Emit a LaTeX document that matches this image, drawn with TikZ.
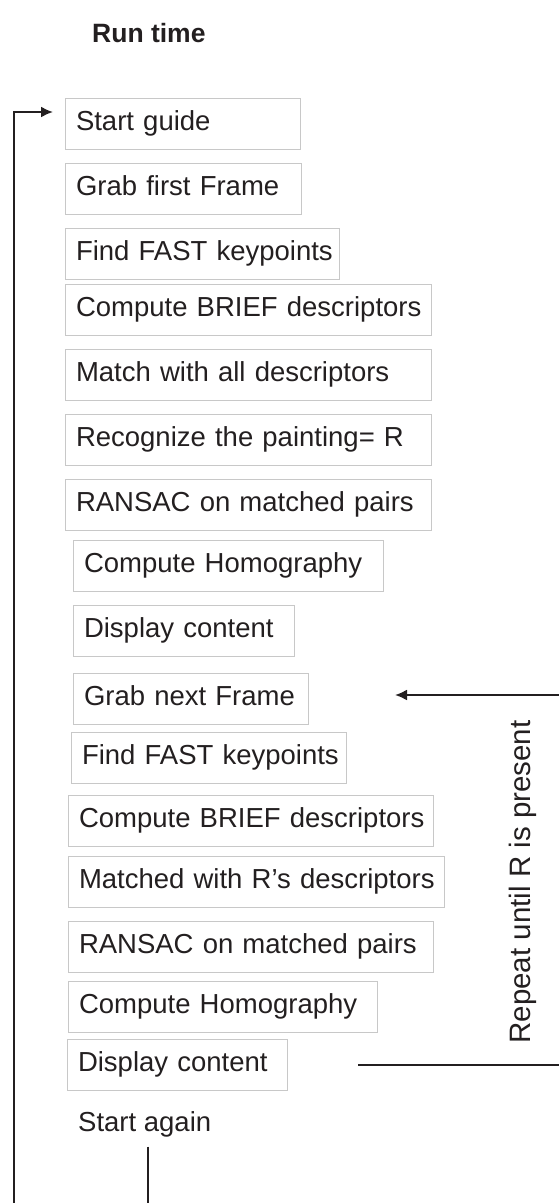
\documentclass[tikz,border=0pt]{standalone}
\usepackage{fontspec}
\setmainfont{Liberation Sans}
\usetikzlibrary{arrows.meta}
\definecolor{ink}{HTML}{231F20}
\definecolor{boxline}{HTML}{C8C8C8}
\tikzset{
	stepbox/.style={draw=boxline, line width=1pt, anchor=west, align=left,
		minimum height=51pt, inner xsep=10.5pt, text height=20pt, text depth=7pt},
	loopline/.style={draw=ink, line width=2pt},
	looptip/.style={-{Latex[length=12pt,width=11pt]}}
}
\begin{document}
\begin{tikzpicture}[x=1pt,y=-1pt,font=\fontsize{27.5}{32}\selectfont,text=ink]
	\useasboundingbox (0,0) rectangle (559,1203);
	\node[anchor=base west,inner sep=0pt,font=\fontsize{26.5}{32}\selectfont\bfseries] (title) at (92,42) {Run time};
	\foreach \n/\x/\y/\w/\txt in {
		start/65/123.5/214/Start guide,
		grab1/65/188.5/215/Grab first Frame,
		fast1/65/253.5/253/Find FAST keypoints,
		brief1/65/310/345/Compute BRIEF descriptors,
		match1/65/375/345/Match with all descriptors,
		recog/65/439.5/345/Recognize the painting= R,
		ransac1/65/504.5/345/RANSAC on matched pairs,
		homog1/73/566/289/Compute Homography,
		show1/73/630.5/200/Display content,
		next/73/698.5/214/Grab next Frame,
		fast2/71/757.5/254/Find FAST keypoints,
		brief2/68/820.5/344/Compute BRIEF descriptors,
		match2/68/881.5/355/Matched with R’s descriptors,
		ransac2/68/946.5/344/RANSAC on matched pairs,
		homog2/68/1006.5/288/Compute Homography,
		show2/67/1064.5/199/Display content}
		\node[stepbox,text width=\w pt] (\n) at (\x,\y) {\mbox{\txt}};
	\node[anchor=west,inner xsep=10.5pt,text height=20pt,text depth=7pt] (again) at (67.5,1124.5) {Start again};
	\node[rotate=90,font=\fontsize{29.5}{34}\selectfont] (repeat) at (523,882) {Repeat until R is present};
	\coordinate (leftfoot) at (14,1203);
	\coordinate (rtop) at (559,695);
	\coordinate (rbot) at (559,1064.5);
	\draw[loopline,looptip] (leftfoot) |- ([xshift=-12pt,yshift=11.5pt]start.west);
	\draw[loopline,looptip,shorten >=86pt] (rtop) -- (rtop -| next.east);
	\draw[loopline] ([xshift=70pt]show2.east) -- (rbot);
	\draw[loopline] ([xshift=3pt,yshift=-5pt]again.south) -- ([xshift=3pt]again.south |- leftfoot);
\end{tikzpicture}
\end{document}
